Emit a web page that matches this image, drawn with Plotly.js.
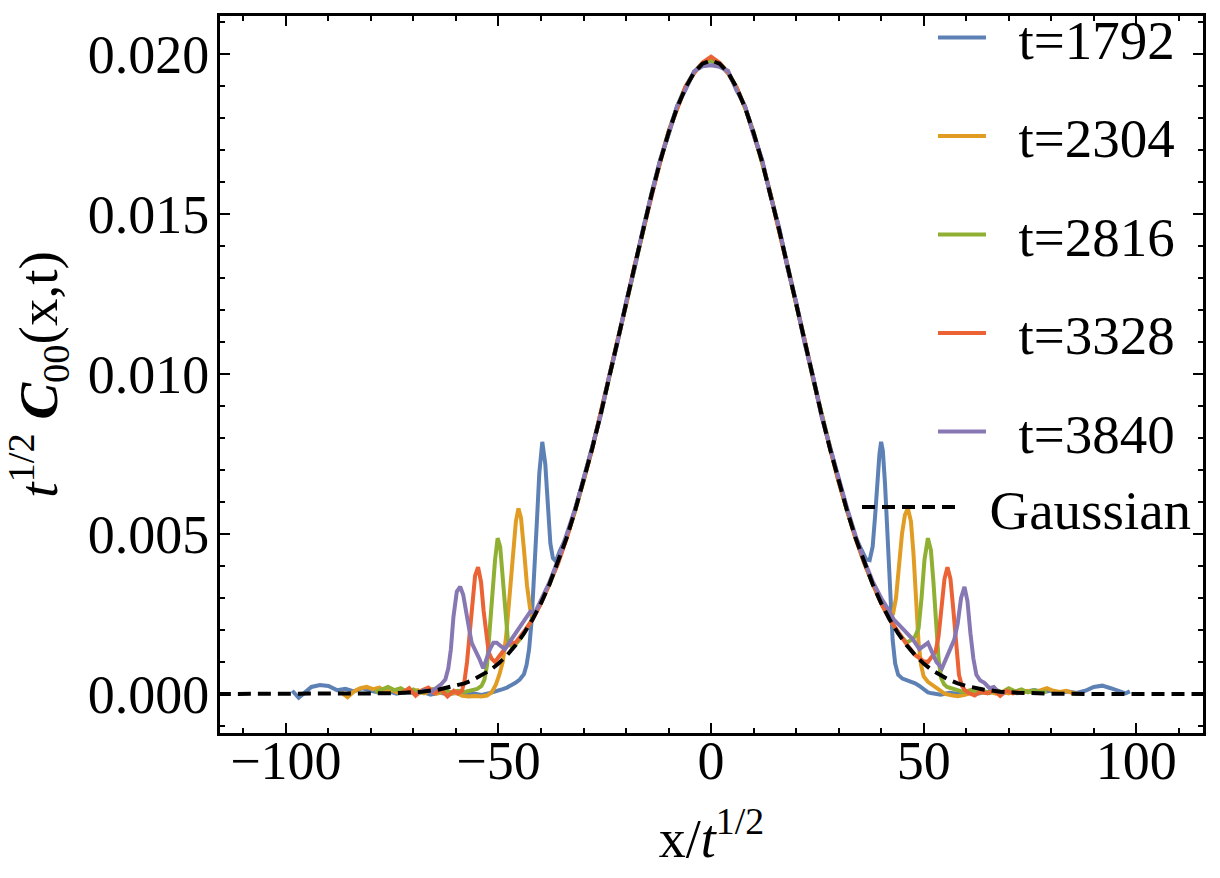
<!DOCTYPE html>
<html>
<head>
<meta charset="utf-8">
<script src="https://cdn.plot.ly/plotly-3.0.1.min.js"></script>
<style>
  html, body { margin: 0; padding: 0; background: #ffffff; }
  #chart { width: 1220px; height: 878px; }
</style>
</head>
<body>
<div id="chart"></div>
<script>
// ---------------- data ----------------
const seriesNames = ["t=1792", "t=2304", "t=2816", "t=3328", "t=3840"];
const seriesColors = ["#5E81B5", "#E19C24", "#8FB032", "#EB6235", "#8778B3"];

// common central x grid (x / t^{1/2})
const centerX = [-34,-32,-30,-28,-26,-24,-22,-20,-18,-16,-14,-12,-10,-8,-6,-4,-2,0,
                 2,4,6,8,10,12,14,16,18,20,22,24,26,28,30,32,34];

// t = 1792
const left1792X = [-98.5,-97,-95.5,-94,-92,-90,-88,-86,-84,-82,-80,-78,-76,-74,-72,-70,-68,-66,-64,-62,-60,-58,-56,-54,
  -52,-51,-50,-49,-48,-47,-46,-45,-44,-43.4,-42.8,-42.2,-41.6,-41,-40.4,-39.7,-39,-38.4,-37.8,-37.2,-36.5,-35.5];
const left1792Y = [0.00010,-0.00012,0.00005,0.00022,0.00028,0.00025,0.00012,0.00016,0.00008,0.00018,0.00010,0.00004,0.00009,0.00001,
  0.00006,0.00002,0.00007,-0.00002,0.00004,0.00000,0.00003,-0.00004,0.00002,-0.00003,
  0.00003,0.00006,0.00010,0.00015,0.00020,0.00026,0.00035,0.00045,0.00062,0.00090,0.00140,0.00230,0.00360,0.00530,0.00690,0.00788,
  0.00720,0.00580,0.00470,0.00425,0.00415,0.00450];
const center1792Y = [0.00490,0.00575,0.00668,0.00770,0.00876,0.00990,0.01106,0.01224,0.01342,0.01456,0.01566,0.01668,0.01758,0.01836,
  0.01898,0.01944,0.01972,0.01978,0.01968,0.01940,0.01896,0.01834,0.01756,0.01666,0.01564,0.01455,0.01340,0.01222,0.01104,0.00988,
  0.00875,0.00768,0.00667,0.00574,0.00489];
const right1792X = [35.5,36.5,37.3,38,38.6,39.2,39.6,40,40.4,40.9,41.5,42.1,42.7,43.3,44,45,46,47,48,49,
  50,51,52,54,56,58,60,62,64,66,68,70,72,74,76,78,80,82,84,86,88,90,92,94,96,97.5,98.5];
const right1792Y = [0.00448,0.00420,0.00418,0.00460,0.00560,0.00680,0.00750,0.00788,0.00760,0.00660,
  0.00480,0.00300,0.00170,0.00095,0.00060,0.00048,0.00044,0.00040,0.00033,0.00025,
  0.00014,0.00005,0.00002,-0.00002,0.00004,0.00001,0.00005,0.00000,0.00004,0.00008,
  0.00003,0.00006,0.00002,0.00007,0.00012,0.00006,0.00010,0.00004,0.00008,0.00003,
  0.00010,0.00022,0.00026,0.00018,0.00010,0.00002,0.00008];

// t = 2304
const left2304X = [-87,-85.5,-84,-82.5,-81,-79.5,-78,-76.5,-75,-73.5,-72,-70.5,-69,-67.5,-66,-64.5,-63,-61.5,-60,-58.5,
  -57,-55.5,-54,-52.7,-51.6,-50.6,-49.8,-49,-48.2,-47.4,-46.6,-45.9,-45.3,-44.7,-44,-43.3,-42.6,-42,-41,-40,-38,-36];
const left2304Y = [0.00005,-0.00010,0.00008,0.00018,0.00022,0.00015,0.00020,0.00008,0.00012,0.00003,
  0.00010,0.00005,0.00012,0.00002,0.00008,0.00001,0.00006,0.00000,0.00004,-0.00006,
  -0.00008,-0.00006,-0.00008,-0.00005,0.00005,0.00030,0.00060,0.00100,0.00180,0.00300,
  0.00440,0.00540,0.00580,0.00550,0.00450,0.00340,0.00270,0.00240,0.00260,0.00285,0.00345,0.00412];
const center2304Y = [0.00486,0.00570,0.00666,0.00763,0.00874,0.00982,0.01103,0.01217,0.01338,0.01449,0.01563,0.01661,0.01756,0.01830,
  0.01897,0.01940,0.01972,0.01982,0.01971,0.01941,0.01893,0.01833,0.01752,0.01664,0.01559,0.01452,0.01334,0.01220,0.01099,0.00985,
  0.00870,0.00766,0.00663,0.00573,0.00485];
const right2304X = [36,38,40,41,42,42.8,43.5,44.2,44.9,45.6,46.3,47,47.6,48.2,48.8,49.4,50,51,52,53,
  54,55,56.5,58,59.5,61,62.5,64,65.5,67,68.5,70,71.5,73,74.5,76,77.5,79,80.5,82,83.5,85,86.5];
const right2304Y = [0.00413,0.00346,0.00290,0.00262,0.00242,0.00250,0.00300,0.00400,0.00500,0.00560,
  0.00580,0.00540,0.00440,0.00300,0.00160,0.00090,0.00055,0.00038,0.00028,0.00018,
  0.00010,0.00000,-0.00004,-0.00007,-0.00003,0.00002,0.00008,0.00003,0.00007,0.00001,
  0.00006,0.00002,0.00009,0.00004,0.00010,0.00005,0.00012,0.00018,0.00010,0.00006,0.00010,0.00003,0.00000];

// t = 2816
const left2816X = [-79,-77.5,-76,-74.5,-73,-71.5,-70,-68.5,-67,-65.5,-64,-62.5,-61,-59.5,-58,-56.5,-55,-54,-53.3,-52.7,
  -52.1,-51.5,-50.8,-50.2,-49.6,-49,-48.4,-47.8,-47,-46,-45,-44,-42,-40,-38,-36];
const left2816Y = [0.00005,0.00015,0.00022,0.00012,0.00018,0.00006,0.00014,0.00003,0.00010,0.00015,
  0.00005,0.00012,0.00004,0.00010,0.00006,0.00012,0.00016,0.00025,0.00045,0.00090,
  0.00180,0.00300,0.00420,0.00487,0.00460,0.00360,0.00240,0.00170,0.00150,0.00155,
  0.00170,0.00190,0.00235,0.00286,0.00342,0.00410];
const center2816Y = [0.00489,0.00574,0.00664,0.00767,0.00870,0.00986,0.01100,0.01221,0.01335,0.01453,0.01560,0.01665,0.01753,0.01834,
  0.01894,0.01943,0.01969,0.01981,0.01969,0.01943,0.01896,0.01831,0.01755,0.01662,0.01562,0.01450,0.01337,0.01218,0.01102,0.00983,
  0.00873,0.00764,0.00666,0.00571,0.00488];
const right2816X = [36,38,40,42,44,46,47,48,48.8,49.5,50.2,51,51.7,52.3,52.9,53.5,54.1,54.8,55.5,56.5,
  58,59.5,61,62.5,64,65.5,67,68.5,70,71.5,73,74.5,76,77.5,79];
const right2816Y = [0.00410,0.00344,0.00285,0.00235,0.00192,0.00160,0.00168,0.00180,0.00205,0.00300,
  0.00420,0.00487,0.00450,0.00350,0.00220,0.00110,0.00050,0.00030,0.00022,0.00018,
  0.00012,0.00006,0.00012,0.00004,0.00010,0.00003,0.00012,0.00006,0.00018,0.00008,
  0.00014,0.00005,0.00012,0.00004,0.00008];

// t = 3328
const left3328X = [-72.5,-71,-69.5,-68,-66.5,-65,-63.5,-62,-60.5,-59.5,-58.6,-58,-57.4,-56.8,-56.2,-55.5,-54.8,-54.1,-53.5,-52.9,
  -52.3,-51.6,-50.8,-50,-49,-48,-47,-46,-44,-42,-40,-38,-36];
const left3328Y = [0.00005,0.00018,-0.00005,0.00012,0.00020,0.00002,0.00014,-0.00008,0.00010,0.00002,
  0.00010,0.00040,0.00100,0.00190,0.00300,0.00370,0.00396,0.00350,0.00260,0.00180,
  0.00130,0.00110,0.00100,0.00115,0.00135,0.00150,0.00160,0.00160,0.00195,0.00232,0.00283,0.00345,0.00408];
const center3328Y = [0.00485,0.00573,0.00667,0.00764,0.00875,0.00983,0.01104,0.01218,0.01339,0.01450,0.01564,0.01662,0.01757,0.01831,
  0.01898,0.01941,0.01974,0.01992,0.01973,0.01942,0.01894,0.01835,0.01753,0.01665,0.01560,0.01453,0.01335,0.01221,0.01100,0.00987,
  0.00871,0.00767,0.00664,0.00575,0.00486];
const right3328X = [36,38,40,42,44,46,48,50,51,52,52.8,53.5,54.2,54.9,55.6,56.3,57,57.7,58.3,59,
  59.7,60.5,62,63.5,65,66.5,68,69.5,71,72.5];
const right3328Y = [0.00410,0.00344,0.00283,0.00233,0.00192,0.00155,0.00122,0.00102,0.00100,0.00118,
  0.00132,0.00180,0.00280,0.00360,0.00396,0.00360,0.00260,0.00140,0.00060,0.00025,
  0.00012,0.00004,-0.00005,0.00008,0.00002,0.00012,-0.00006,0.00010,0.00002,0.00008];

// t = 3840
const left3840X = [-69,-67.5,-66,-64.5,-63.5,-62.5,-61.8,-61.2,-60.6,-59.8,-59,-58.3,-57.6,-57,-56.3,-55.5,-54.5,-53.6,-52.8,-52,
  -51.2,-50.4,-49.5,-48.5,-47.5,-46.5,-45.5,-44.5,-43.5,-42.5,-41.5,-40,-38,-36];
const left3840Y = [0.00002,0.00012,0.00005,0.00018,0.00030,0.00045,0.00080,0.00140,0.00240,0.00320,
  0.00335,0.00310,0.00250,0.00210,0.00160,0.00140,0.00110,0.00080,0.00110,0.00140,
  0.00160,0.00160,0.00150,0.00140,0.00160,0.00180,0.00200,0.00220,0.00240,0.00258,0.00252,0.00292,0.00350,0.00418];
const center3840Y = [0.00495,0.00578,0.00672,0.00770,0.00868,0.00990,0.01098,0.01225,0.01330,0.01455,0.01556,0.01668,0.01748,0.01838,
  0.01888,0.01946,0.01962,0.01965,0.01960,0.01948,0.01886,0.01838,0.01747,0.01670,0.01555,0.01458,0.01330,0.01225,0.01096,0.00990,
  0.00866,0.00772,0.00670,0.00580,0.00494];
const right3840X = [36,38,40,41.5,43,44.5,46,47.5,49,50,51,52,53,54.3,55.3,56.2,57.2,58,58.8,59.6,
  60.3,61,61.7,62.4,63.3,64.3,65.5,66.5,67.5,69];
const right3840Y = [0.00418,0.00352,0.00300,0.00268,0.00232,0.00212,0.00192,0.00170,0.00140,0.00150,
  0.00160,0.00130,0.00100,0.00080,0.00110,0.00140,0.00170,0.00220,0.00300,0.00335,
  0.00290,0.00190,0.00110,0.00060,0.00042,0.00035,0.00018,0.00022,0.00008,0.00004];

// Gaussian reference curve
const gaussX = [-116,-100,-90,-80,-76,-72,-68,-64,-60,-58,-56,-54,-52,-50,-48,-46,-44,-42,-40,-38,-36,-34,-32,-30,-28,-26,-24,-22,-20,
  -18,-16,-14,-12,-10,-8,-6,-4,-2,0,2,4,6,8,10,12,14,16,18,20,22,24,26,28,30,32,34,36,38,40,42,44,46,48,50,52,54,56,58,60,
  64,68,72,76,80,90,100,116];
const gaussY = [0,0,0,0.00001,0.00002,0.00004,0.00007,0.00014,0.00025,0.00033,0.00044,0.00058,0.00074,0.00095,0.00121,0.00152,0.00189,
  0.00233,0.00284,0.00343,0.00411,0.00487,0.00572,0.00665,0.00765,0.00872,0.00984,0.01101,0.01219,0.01336,0.01451,0.01561,0.01663,
  0.01754,0.01832,0.01895,0.01942,0.01970,0.01980,0.01970,0.01942,0.01895,0.01832,0.01754,0.01663,0.01561,0.01451,0.01336,0.01219,
  0.01101,0.00984,0.00872,0.00765,0.00665,0.00572,0.00487,0.00411,0.00343,0.00284,0.00233,0.00189,0.00152,0.00121,0.00095,0.00074,
  0.00058,0.00044,0.00033,0.00025,0.00014,0.00007,0.00004,0.00002,0.00001,0,0,0];

const xTickVals = [-100, -50, 0, 50, 100];
const yTickVals = [0, 0.005, 0.010, 0.015, 0.020];

// ---------------- build traces ----------------
const seriesX = [
  left1792X.concat(centerX, right1792X),
  left2304X.concat(centerX, right2304X),
  left2816X.concat(centerX, right2816X),
  left3328X.concat(centerX, right3328X),
  left3840X.concat(centerX, right3840X)
];
const seriesY = [
  left1792Y.concat(center1792Y, right1792Y),
  left2304Y.concat(center2304Y, right2304Y),
  left2816Y.concat(center2816Y, right2816Y),
  left3328Y.concat(center3328Y, right3328Y),
  left3840Y.concat(center3840Y, right3840Y)
];

const FONT = "Liberation Serif, Times New Roman, serif";
const GAP = "\u00A0\u00A0";
const traces = seriesNames.map((name, i) => ({
  type: "scatter",
  mode: "lines",
  name: GAP + name,
  x: seriesX[i],
  y: seriesY[i],
  line: { color: seriesColors[i], width: 4 },
  legendgroup: "g" + i,
  legend: "legend",
  hoverinfo: "skip"
}));
traces.push({
  type: "scatter",
  mode: "lines",
  name: "\u00A0\u00A0Gaussian",
  x: gaussX,
  y: gaussY,
  line: { color: "#000000", width: 4, dash: "13px,7px" },
  legend: "legend2",
  hoverinfo: "skip"
});

const axisCommon = {
  showline: true,
  linecolor: "#000000",
  linewidth: 3,
  mirror: "allticks",
  ticks: "inside",
  ticklen: 10,
  tickwidth: 2,
  tickcolor: "#000000",
  showgrid: false,
  zeroline: false,
  tickfont: { family: FONT, size: 54, color: "#000000" }
};

const layout = {
  width: 1220,
  height: 878,
  paper_bgcolor: "#ffffff",
  plot_bgcolor: "#ffffff",
  margin: { l: 220, r: 17, t: 16, b: 145, autoexpand: false },
  showlegend: true,
  xaxis: Object.assign({}, axisCommon, {
    range: [-115.5, 115.7],
    tickmode: "array",
    tickvals: xTickVals,
    ticklabelstandoff: -22,
    minor: { dtick: 10, tick0: 0, ticks: "inside", ticklen: 5, tickwidth: 2, tickcolor: "#000000", showgrid: false },
    title: { text: "x/<i>t</i><sup>1/2</sup>", font: { family: FONT, size: 54, color: "#000000" }, standoff: 30 }
  }),
  yaxis: Object.assign({}, axisCommon, {
    range: [-0.00122, 0.02119],
    tickmode: "array",
    tickvals: yTickVals,
    tickformat: ".3f",
    ticklabelstandoff: -3,
    minor: { dtick: 0.001, tick0: 0, ticks: "inside", ticklen: 5, tickwidth: 2, tickcolor: "#000000", showgrid: false },
    title: { text: "<i>t</i><sup>1/2</sup>\u00A0<b><i>C</i></b><sub>00</sub>(x,t)", font: { family: FONT, size: 55, color: "#000000" }, standoff: 14 }
  }),
  legend: {
    x: 0.7253, y: 1.029, xanchor: "left", yanchor: "top",
    bgcolor: "rgba(0,0,0,0)",
    font: { family: FONT, size: 55, color: "#000000" },
    traceorder: "grouped",
    tracegroupgap: 24,
    itemwidth: 48,
    maxheight: 1
  },
  legend2: {
    x: 0.648, y: 0.374, xanchor: "left", yanchor: "top",
    bgcolor: "rgba(0,0,0,0)",
    font: { family: FONT, size: 55, color: "#000000" },
    itemwidth: 95,
    maxheight: 1
  }
};

Plotly.newPlot("chart", traces, layout, { staticPlot: true, displayModeBar: false });
</script>
</body>
</html>
